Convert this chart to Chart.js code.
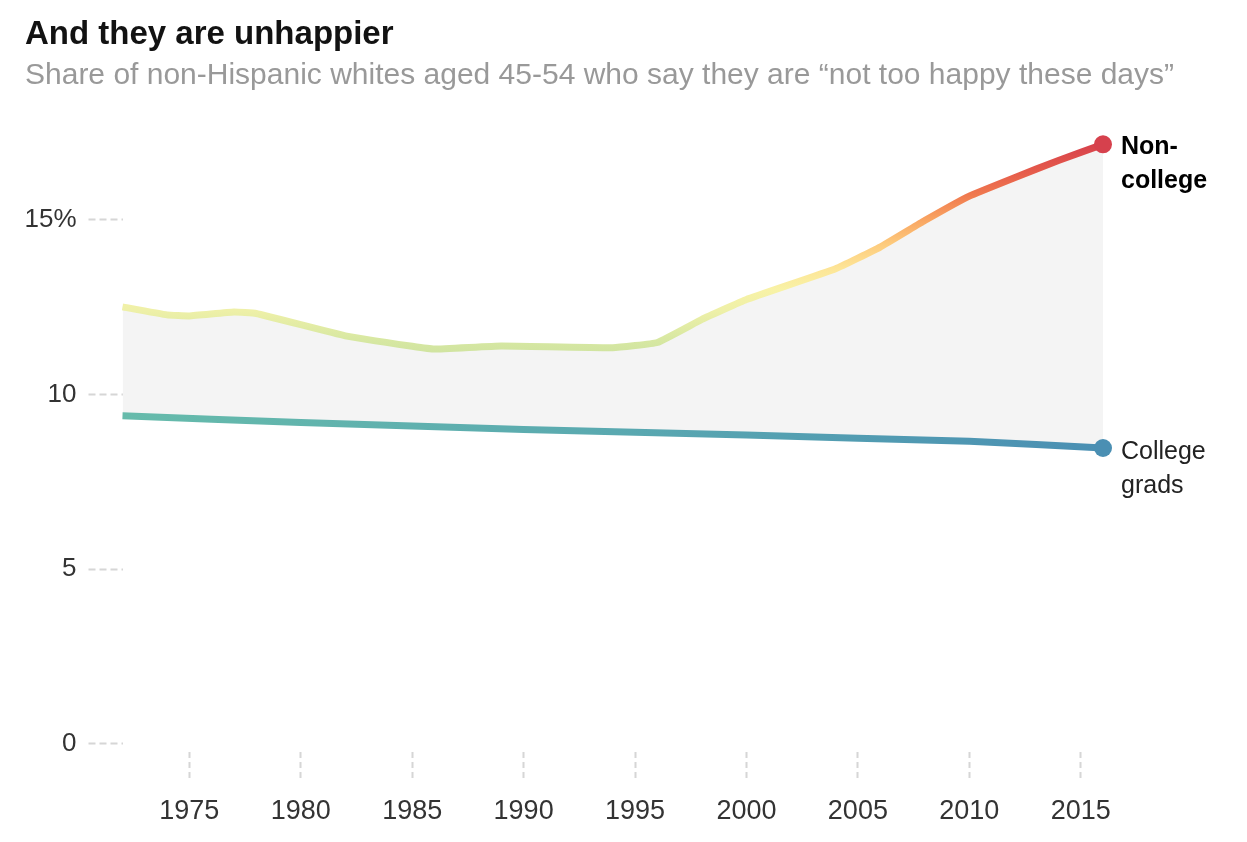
<!DOCTYPE html>
<html>
<head>
<meta charset="utf-8">
<script src="https://cdn.jsdelivr.net/npm/chart.js@4.4.1/dist/chart.umd.min.js"></script>
<style>
  html, body { margin: 0; padding: 0; background: #fff; }
  #wrap { position: relative; width: 1247px; height: 842px; overflow: hidden; }
  #title { position: absolute; left: 25px; top: 14px; font: bold 33px 'Liberation Sans', Arial, sans-serif; color: #121212; white-space: nowrap; }
  #subtitle { position: absolute; left: 25px; top: 57px; font: 30px 'Liberation Sans', Arial, sans-serif; color: #999; white-space: nowrap; }
  canvas { position: absolute; left: 0; top: 0; }
</style>
</head>
<body>
<div id="wrap">
  <canvas id="happyChart" width="1247" height="842"></canvas>
  <div id="title">And they are unhappier</div>
  <div id="subtitle">Share of non-Hispanic whites aged 45-54 who say they are “not too happy these days”</div>
</div>
<script>
// values (percent)
const nonCollegeYears = [1972, 1974, 1975, 1977, 1978, 1982, 1985, 1986, 1989, 1994, 1996, 1998, 2000, 2004, 2006, 2008, 2010, 2012, 2014, 2016];
const nonCollegeValues = [12.51, 12.28, 12.25, 12.36, 12.32, 11.68, 11.38, 11.30, 11.39, 11.34, 11.49, 12.15, 12.72, 13.6, 14.22, 14.98, 15.68, 16.2, 16.7, 17.16];

const collegeYears = [1972, 1980, 1990, 2000, 2010, 2016];
const collegeValues = [9.39, 9.2, 9.0, 8.84, 8.66, 8.47];

const xTicks = [1975, 1980, 1985, 1990, 1995, 2000, 2005, 2010, 2015];
const yTicks = [0, 5, 10, 15];

const FONT = "'Liberation Sans', Arial, sans-serif";

// colour of the non-college line changes with its value
const warmStops = [
  [11.0, '#cce2a0'], [11.6, '#d8e8a2'], [12.4, '#eef0a8'], [13.0, '#f8f2a6'],
  [13.6, '#fde597'], [14.3, '#fdcb7d'], [15.0, '#f9a562'], [15.7, '#f07a4f'],
  [16.4, '#e55a4b'], [17.2, '#d6404c']
];

function warmGradient(context) {
  const chart = context.chart;
  const area = chart.chartArea;
  if (!area) return '#eef0a8';
  const y = chart.scales.y;
  const lo = warmStops[0][0], hi = warmStops[warmStops.length - 1][0];
  const g = chart.ctx.createLinearGradient(0, y.getPixelForValue(lo), 0, y.getPixelForValue(hi));
  warmStops.forEach(s => g.addColorStop((s[0] - lo) / (hi - lo), s[1]));
  return g;
}

function coolGradient(context) {
  const chart = context.chart;
  const area = chart.chartArea;
  if (!area) return '#5aa8b0';
  const g = chart.ctx.createLinearGradient(area.left, 0, area.right, 0);
  g.addColorStop(0, '#66bbab');
  g.addColorStop(0.5, '#5aa9b0');
  g.addColorStop(1, '#4a8fb3');
  return g;
}

const lastOnly = r => ctx => ctx.dataIndex === ctx.dataset.data.length - 1 ? r : 0;

// end-of-line labels
const endLabels = {
  id: 'endLabels',
  afterDatasetsDraw(chart) {
    const ctx = chart.ctx;
    const lab = [
      { ds: 1, lines: ['Non-', 'college'], font: 'bold 25px ' + FONT, color: '#000', dy: [3, 37] },
      { ds: 0, lines: ['College', 'grads'], font: '25px ' + FONT, color: '#222', dy: [4, 38] }
    ];
    ctx.save();
    ctx.textAlign = 'left';
    ctx.textBaseline = 'middle';
    lab.forEach(l => {
      const pts = chart.getDatasetMeta(l.ds).data;
      const p = pts[pts.length - 1];
      ctx.font = l.font;
      ctx.fillStyle = l.color;
      l.lines.forEach((t, i) => ctx.fillText(t, p.x + 18, p.y + l.dy[i]));
    });
    ctx.restore();
  }
};

const canvas = document.getElementById('happyChart');

new Chart(canvas.getContext('2d'), {
  type: 'line',
  data: {
    datasets: [
      {
        label: 'College grads',
        data: collegeYears.map((yr, i) => ({ x: yr, y: collegeValues[i] })),
        borderColor: coolGradient,
        borderWidth: 7,
        pointRadius: lastOnly(9),
        pointBackgroundColor: '#4a8fb3',
        pointBorderColor: '#4a8fb3',
        pointBorderWidth: 0,
        tension: 0.1,
        fill: false,
        clip: false
      },
      {
        label: 'Non-college',
        data: nonCollegeYears.map((yr, i) => ({ x: yr, y: nonCollegeValues[i] })),
        borderColor: warmGradient,
        backgroundColor: '#f4f4f4',
        borderWidth: 7,
        pointRadius: lastOnly(9),
        pointBackgroundColor: '#d6414d',
        pointBorderColor: '#d6414d',
        pointBorderWidth: 0,
        tension: 0.1,
        fill: '-1',
        clip: false
      }
    ]
  },
  options: {
    responsive: false,
    animation: false,
    events: [],
    layout: { padding: { left: 0, right: 144, top: 115, bottom: 0 } },
    plugins: {
      legend: { display: false },
      tooltip: { enabled: false }
    },
    scales: {
      x: {
        type: 'linear',
        min: 1972,
        max: 2016,
        afterBuildTicks: s => { s.ticks = xTicks.map(v => ({ value: v })); },
        afterFit: s => { s.height = 90; },
        border: { display: false },
        grid: {
          drawOnChartArea: false,
          drawTicks: true,
          tickLength: 28,
          tickColor: '#d6d6d6',
          tickWidth: 2,
          tickBorderDash: [6, 4]
        },
        ticks: {
          padding: 15,
          color: '#333',
          font: { family: FONT, size: 27 },
          callback: v => String(v)
        }
      },
      y: {
        min: -0.23,
        max: 18,
        afterBuildTicks: s => { s.ticks = yTicks.map(v => ({ value: v })); },
        afterFit: s => { s.width = 122.5; },
        border: { display: false },
        grid: {
          drawOnChartArea: false,
          drawTicks: true,
          tickLength: 34,
          tickColor: '#d6d6d6',
          tickWidth: 2,
          tickBorderDash: [7, 4]
        },
        ticks: {
          padding: 12,
          color: '#333',
          font: { family: FONT, size: 26 },
          callback: v => v === 15 ? '15%' : String(v)
        }
      }
    }
  },
  plugins: [endLabels]
});
</script>
</body>
</html>
